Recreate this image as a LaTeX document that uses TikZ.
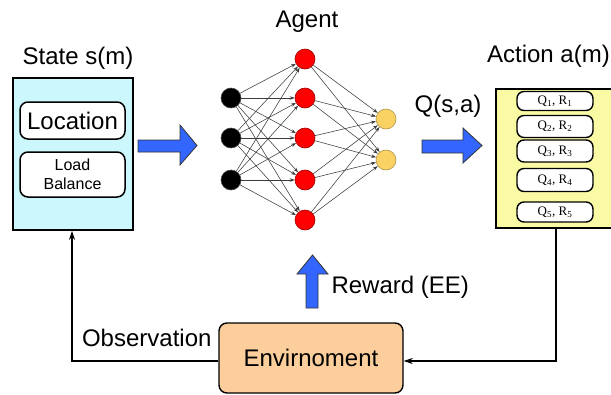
\documentclass[tikz,border=0pt]{standalone}
\usepackage{fontspec}
\setmainfont{Liberation Sans}
\newfontfamily\qfont{Liberation Serif}
\usetikzlibrary{arrows.meta}
\definecolor{cyanfill}{RGB}{204,247,252}
\definecolor{yelfill}{RGB}{250,250,165}
\definecolor{envfill}{RGB}{252,206,156}
\definecolor{bluearr}{RGB}{51,102,255}
\definecolor{outnode}{RGB}{250,210,100}
\definecolor{edgegray}{RGB}{60,60,60}
\begin{document}
\begin{tikzpicture}[x=1pt,y=-1pt,
  big/.style={font=\fontsize{24}{28}\selectfont},
  outerbox/.style={draw=black,line width=1.6pt},
  innerbox/.style={draw=black,line width=1.5pt,rounded corners=8pt,fill=white,align=center},
  qbox/.style={draw=black,line width=1.4pt,rounded corners=7pt,fill=white,minimum width=76pt,font=\qfont\fontsize{13}{15}\selectfont},
  blockarrow/.style={fill=bluearr,draw=black!80,line width=0.8pt},
  neuron/.style={circle,draw=black!70,line width=0.6pt,minimum size=20pt,inner sep=0pt},
  nnedge/.style={draw=edgegray,line width=0.55pt,-{Stealth[length=5pt,width=3.5pt]}},
  flow/.style={draw=black,line width=1.2pt,-{Stealth[length=9pt,width=6pt]}}
]
\useasboundingbox (0,0) rectangle (611,394);

% State box
\node[big] (statetitle) at (78,58) {State s(m)};
\node[outerbox,fill=cyanfill,minimum width=120pt,minimum height=152pt,inner sep=0pt] (state) at (73,154) {};
\node[innerbox,minimum width=105pt,minimum height=37pt,font=\fontsize{24}{28}\selectfont,inner sep=1pt] (loc) at (72.5,120.5) {Location};
\node[innerbox,minimum width=105pt,minimum height=45pt,font=\fontsize{16}{19}\selectfont,inner sep=1pt] (lb) at (72.5,174.5) {Load\\Balance};

% Blue arrow 1
\draw[blockarrow] (138,140) -- (180,140) -- (180,125) -- (197,145.5) -- (180,165) -- (180,152) -- (138,152) -- cycle;

% Agent
\node[big] (agenttitle) at (307,22) {Agent};
\foreach \i/\y in {1/98,2/138,3/180} {
  \node[neuron,fill=black] (in\i) at (231,\y) {};
}
\foreach \i/\y in {1/59,2/98,3/138,4/180,5/220} {
  \node[neuron,fill=red,draw=red!60!black] (h\i) at (305,\y) {};
}
\foreach \i/\y in {1/119,2/160} {
  \node[neuron,fill=outnode,draw=outnode!70!black] (o\i) at (386,\y) {};
}
\foreach \i in {1,2,3} {
  \foreach \j in {1,...,5} {
    \draw[nnedge] (in\i) -- (h\j);
  }
}
\foreach \j in {1,...,5} {
  \foreach \k in {1,2} {
    \draw[nnedge] (h\j) -- (o\k);
  }
}

% Q(s,a) and arrow 2
\node[big] (qsa) at (448,106) {Q(s,a)};
\draw[blockarrow] (422,140) -- (463,140) -- (463,128) -- (482,145.5) -- (463,163) -- (463,153) -- (422,153) -- cycle;

% Action box
\node[big,anchor=east,inner xsep=1pt] (acttitle) at (611,56) {Action a(m)};
\node[outerbox,fill=yelfill,minimum width=135pt,minimum height=139pt,inner sep=0pt,anchor=north west] (action) at (495,88) {};
\node[qbox,minimum height=19pt] (q1) at (555,101) {Q\textsubscript{1}, R\textsubscript{1}};
\node[qbox,minimum height=22pt] (q2) at (555,126.5) {Q\textsubscript{2}, R\textsubscript{2}};
\node[qbox,minimum height=22pt] (q3) at (555,151) {Q\textsubscript{3}, R\textsubscript{3}};
\node[qbox,minimum height=23pt] (q4) at (555,180) {Q\textsubscript{4}, R\textsubscript{4}};
\node[qbox,minimum height=20pt] (q5) at (555,212) {Q\textsubscript{5}, R\textsubscript{5}};

% Environment
\node[draw=black,line width=1.4pt,rounded corners=8pt,fill=envfill,minimum width=184pt,minimum height=70pt,big] (env) at (311,358) {Envirnoment};

% Reward arrow
\draw[blockarrow] (306,308) -- (306,274) -- (297,274) -- (312.5,255) -- (328,274) -- (318,274) -- (318,308) -- cycle;
\node[big,anchor=west] (reward) at (328,287) {Reward (EE)};

% Feedback lines
\coordinate (obsturn) at (72,361);
\coordinate (actturn) at (556,361);
\draw[flow] (env.west |- obsturn) -- (obsturn) -- (state.south -| obsturn);
\draw[flow] (action.south -| actturn) -- (actturn) -- (env.east |- actturn);
\node[big,anchor=east] (obs) at (215,338) {Observation};
\end{tikzpicture}
\end{document}
